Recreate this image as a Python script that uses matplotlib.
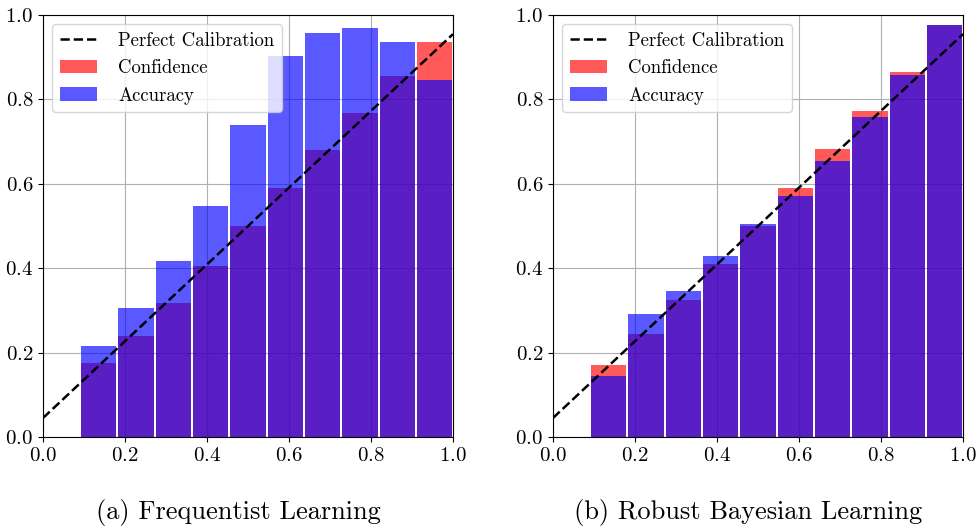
import numpy as np
import matplotlib
matplotlib.use("Agg")
import matplotlib.pyplot as plt

plt.rcParams["font.family"] = "serif"
plt.rcParams["font.serif"] = ["cmr10", "DejaVu Serif"]
plt.rcParams["mathtext.fontset"] = "cm"
plt.rcParams["axes.formatter.use_mathtext"] = True

# bin positions (centres) and the diagonal reference line
bin_centers = [0.136, 0.227, 0.318, 0.409, 0.5, 0.591, 0.682, 0.773, 0.864, 0.955]
line_x = [0.0, 1.0]
line_y = [0.045, 0.955]

# (a) Frequentist Learning
freq_conf = [0.175, 0.240, 0.318, 0.405, 0.500, 0.590, 0.680, 0.768, 0.855, 0.936]
freq_acc = [0.215, 0.305, 0.417, 0.547, 0.739, 0.903, 0.957, 0.969, 0.936, 0.846]

# (b) Robust Bayesian Learning
bayes_conf = [0.170, 0.243, 0.324, 0.409, 0.500, 0.590, 0.682, 0.772, 0.866, 0.976]
bayes_acc = [0.144, 0.291, 0.346, 0.428, 0.504, 0.571, 0.654, 0.758, 0.858, 0.976]

captions = ["(a) Frequentist Learning", "(b) Robust Bayesian Learning"]

fig = plt.figure(figsize=(9.77, 5.30), dpi=100)
ax1 = fig.add_axes([0.044, 0.1755, 0.4197, 0.796])
ax2 = fig.add_axes([0.566, 0.1755, 0.4197, 0.796])

for ax, conf, acc, cap in [(ax1, freq_conf, freq_acc, captions[0]),
                           (ax2, bayes_conf, bayes_acc, captions[1])]:
    ax.plot(line_x, line_y, "k--", linewidth=1.8, label="Perfect Calibration", zorder=3)
    ax.bar(bin_centers, conf, width=0.086, color="red", alpha=0.65, label="Confidence", zorder=2)
    ax.bar(bin_centers, acc, width=0.086, color="blue", alpha=0.65, label="Accuracy", zorder=2)
    ax.set_xlim(0, 1)
    ax.set_ylim(0, 1)
    ax.grid(True, zorder=0)
    ax.set_axisbelow(True)
    ax.tick_params(labelsize=15)
    ax.legend(loc="upper left", fontsize=13.5, handletextpad=1.1)
    ax.text(0.476, -0.18, cap, transform=ax.transAxes, ha="center", va="center", fontsize=19)

fig.savefig("out.png", dpi=100)
